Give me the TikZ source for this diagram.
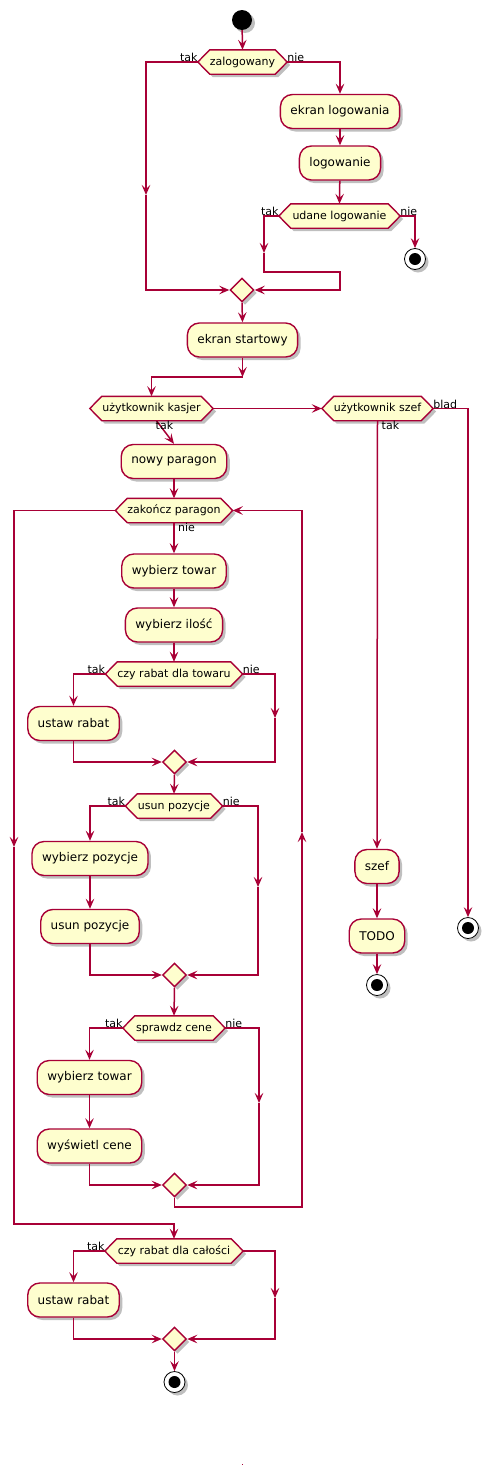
\documentclass[tikz,border=0pt]{standalone}
\usepackage{fontspec}
\setmainfont{DejaVu Sans}
\usetikzlibrary{arrows.meta,shadows,shapes.geometric,calc}
\pgfdeclarelayer{bg}
\pgfsetlayers{bg,main}
\definecolor{puborder}{HTML}{A80036}
\definecolor{pufill}{HTML}{FEFECE}
\tikzset{
  shad/.style={drop shadow={shadow xshift=3pt,shadow yshift=-3pt,opacity=.25,fill=black}},
  act/.style={rectangle, rounded corners=12pt, draw=puborder, fill=pufill, line width=1.4pt,
    minimum height=34pt, inner xsep=10pt, font=\fontsize{12}{14}\selectfont, shad},
  hexlbl/.style={rectangle, inner sep=0pt, minimum height=24pt, font=\fontsize{11}{13}\selectfont},
  hexdraw/.style={draw=puborder, fill=pufill, line width=1.4pt, shad},
  merge/.style={diamond, draw=puborder, fill=pufill, line width=1.4pt, inner sep=0pt,
    minimum width=24pt, minimum height=24pt, shad},
  startc/.style={circle, fill=black, inner sep=0pt, minimum size=20pt, shad},
  stopc/.style={circle, draw=black, fill=white, line width=0.8pt, inner sep=0pt, minimum size=21pt, shad},
  lbl/.style={font=\fontsize{11}{13}\selectfont, inner sep=0pt},
  conn/.style={draw=puborder, line width=1.5pt},
  arr/.style={conn, -{Stealth[length=10pt,width=8.5pt,inset=4pt]}},
}
\newcommand\hexa[5]{%
  \node[hexlbl, minimum width=#4pt] (#1) at (#2,#3) {#5};
  \begin{pgfonlayer}{bg}
  \path[hexdraw] (#1.west) -- ([xshift=12pt]#1.north west) -- ([xshift=-12pt]#1.north east)
     -- (#1.east) -- ([xshift=-12pt]#1.south east) -- ([xshift=12pt]#1.south west) -- cycle;
  \end{pgfonlayer}}
\newcommand\stopnode[3]{%
  \node[stopc] (#1) at (#2,#3) {};
  \fill[black] (#1.center) circle (6pt);}
\begin{document}
\begin{tikzpicture}[x=1pt,y=-1pt]
\useasboundingbox (0,0) rectangle (489,1475);

% ---- login part
\node[startc] (start) at (242,20) {};
\hexa{d1}{242.5}{62}{89}{zalogowany}
\node[act] (a1) at (340,111.5) {ekran logowania};
\node[act] (a2) at (340,163) {logowanie};
\hexa{d2}{339.5}{216}{121}{udane logowanie}
\stopnode{stop1}{415}{259}
\node[merge] (m1) at (242,290) {};
\node[act] (a3) at (242.5,340) {ekran startowy};

\coordinate (k1) at (146,62);
\coordinate (k2) at (146,195);
\coordinate (k3) at (146,290);
\coordinate (k4) at (264,216);
\coordinate (k5) at (264,253);
\coordinate (k6) at (264,272);
\coordinate (k7) at (340,272);
\coordinate (k8) at (340,290);
\coordinate (c1) at (242.5,377);

\draw[arr] (start) -- (d1.north);
\draw[arr] (d1.west) -- (k1) -- (k2);
\draw[arr] (k2) -- (k3) -- (m1.west);
\draw[arr] (d1.east) -| (a1.north);
\draw[arr] (a1) -- (a2);
\draw[arr] (a2) -- (d2.north);
\draw[arr] (d2.east) -| (stop1.north);
\draw[arr] (d2.west) -- (k4) -- (k5);
\draw[arr] (k5) -- (k6) -- (k7) -- (k8) -- (m1.east);
\draw[arr] (m1.south) -- (a3.north);
\draw[arr] (a3.south) -- (c1);
\node[lbl, anchor=south east] at (d1.west) {tak};
\node[lbl, anchor=south west] at (d1.east) {nie};
\node[lbl, anchor=south east] at (d2.west) {tak};
\node[lbl, anchor=south west] at (d2.east) {nie};

% ---- user choice
\hexa{d3}{151.5}{408.5}{123}{użytkownik kasjer}
\hexa{d4}{377.5}{408.5}{111}{użytkownik szef}
\draw[arr] (c1) -| (d3.north);
\draw[arr] (d3.east) -- (d4.west);
\node[act] (a13) at (377,866.5) {szef};
\node[act] (a14) at (377,936) {TODO};
\stopnode{stop3}{377}{985}
\stopnode{stop4}{468}{928}
\draw[arr] (d4.south) -- (a13.north);
\draw[arr] (d4.east) -| (stop4.north);
\draw[arr] (a13) -- (a14);
\draw[arr] (a14) -- (stop3.north);
\node[lbl, anchor=north west] at ([xshift=4pt]d4.south) {tak};
\node[lbl, anchor=south west] at (d4.east) {blad};

% ---- cashier
\node[act] (a4) at (174,461.5) {nowy paragon};
\draw[arr] ([xshift=5pt]d3.south) -- (a4.north);
\node[lbl, anchor=north west] at ([xshift=4pt]d3.south) {tak};
\hexa{d5}{174}{510.5}{117}{zakończ paragon}
\draw[arr] (a4) -- (d5.north);
\node[act] (a5) at (174,571) {wybierz towar};
\node[act] (a6) at (174,625) {wybierz ilość};
\draw[arr] (d5.south) -- (a5.north);
\node[lbl, anchor=north west] at ([xshift=4pt]d5.south) {nie};
\draw[arr] (a5) -- (a6);

\hexa{d6}{174}{674}{137}{czy rabat dla towaru}
\draw[arr] (a6) -- (d6.north);
\node[act] (a7) at (73.5,723.5) {ustaw rabat};
\node[merge] (m2) at (174.5,762) {};
\coordinate (e1) at (275,674);
\coordinate (e2) at (275,718);
\draw[arr] (d6.west) -| (a7.north);
\draw[arr] (d6.east) -- (e1) -- (e2);
\draw[arr] (e2) |- (m2.east);
\draw[arr] (a7.south) |- (m2.west);
\node[lbl, anchor=south east] at (d6.west) {tak};
\node[lbl, anchor=south west] at (d6.east) {nie};

\hexa{d7}{174}{806}{97}{usun pozycje}
\draw[arr] (m2.south) -- (d7.north);
\node[act] (a8) at (90,858.5) {wybierz pozycje};
\node[act] (a9) at (90,926.5) {usun pozycje};
\node[merge] (m3) at (174.5,975) {};
\coordinate (f1) at (258,806);
\coordinate (f2) at (258,887);
\draw[arr] (d7.west) -| (a8.north);
\draw[arr] (a8) -- (a9);
\draw[arr] (d7.east) -- (f1) -- (f2);
\draw[arr] (f2) |- (m3.east);
\draw[arr] (a9.south) |- (m3.west);
\node[lbl, anchor=south east] at (d7.west) {tak};
\node[lbl, anchor=south west] at (d7.east) {nie};

\hexa{d8}{174}{1028}{102}{sprawdz cene}
\draw[arr] (m3.south) -- (d8.north);
\node[act] (a10) at (89.5,1077.5) {wybierz towar};
\node[act] (a11) at (89.5,1146) {wyświetl cene};
\node[merge] (m4) at (174.5,1185) {};
\coordinate (g1) at (259,1028);
\coordinate (g2) at (259,1103);
\draw[arr] (d8.west) -| (a10.north);
\draw[arr] (a10) -- (a11);
\draw[arr] (d8.east) -- (g1) -- (g2);
\draw[arr] (g2) |- (m4.east);
\draw[arr] (a11.south) |- (m4.west);
\node[lbl, anchor=south east] at (d8.west) {tak};
\node[lbl, anchor=south west] at (d8.east) {nie};

% ---- loop back / exit
\coordinate (h1) at (174.5,1207);
\coordinate (h2) at (302,1207);
\coordinate (h3) at (302,832);
\draw[arr] (m4.south) -- (h1) -- (h2) -- (h3);
\draw[arr] (h3) |- (d5.east);
\coordinate (l1) at (14,510.5);
\coordinate (l2) at (14,847);
\coordinate (l3) at (14,1224);
\coordinate (l4) at (174,1224);
\draw[arr] (d5.west) -- (l1) -- (l2);

\hexa{d9}{174}{1251}{138}{czy rabat dla całości}
\draw[arr] (l2) -- (l3) -- (l4) -- (d9.north);
\node[act] (a12) at (73.5,1300) {ustaw rabat};
\node[merge] (m5) at (174.5,1339) {};
\coordinate (n1) at (275,1251);
\coordinate (n2) at (275,1298);
\draw[arr] (d9.west) -| (a12.north);
\draw[arr] (d9.east) -- (n1) -- (n2);
\draw[arr] (n2) |- (m5.east);
\draw[arr] (a12.south) |- (m5.west);
\node[lbl, anchor=south east] at (d9.west) {tak};
\stopnode{stop2}{174.5}{1382}
\draw[arr] (m5.south) -- (stop2.north);

\fill[puborder] (241.5,1463.5) rectangle (243,1465);
\end{tikzpicture}
\end{document}
